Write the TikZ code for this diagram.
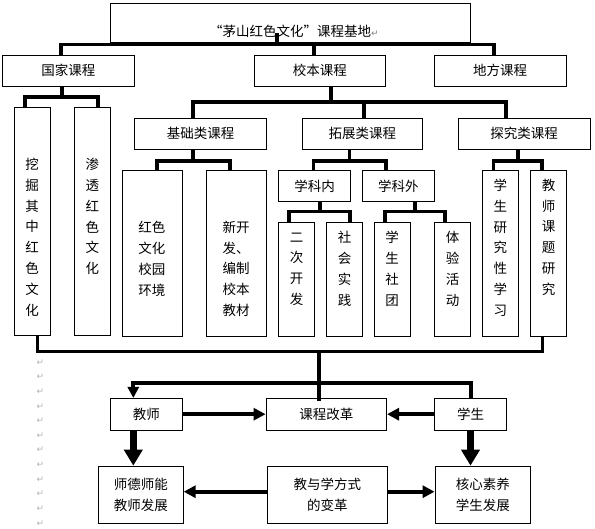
\documentclass[tikz,border=0pt]{standalone}
\usepackage{fontspec}
\newfontfamily\cjk{Noto Sans CJK SC}
\newfontfamily\symfont{DejaVu Sans}
\usetikzlibrary{arrows.meta}
\tikzset{
  kbox/.style={draw=black, line width=0.8pt, inner sep=0pt, align=center,
    font=\cjk\fontsize{13.5}{20.8}\selectfont},
  hbox/.style={kbox, minimum height=31pt},
  tallbox/.style={kbox, minimum height=165.3pt},
  vtext/.style={inner sep=0pt, align=center, font=\cjk\fontsize{13.5}{20.8}\selectfont},
  bar/.style={line width=3.6pt},
  looparr/.style={line width=4pt, -{Triangle[length=11pt,width=11pt]}},
  arr/.style={line width=4.2pt, -{Triangle[length=12pt,width=12pt]}},
  bigarr/.style={line width=6.5pt, -{Triangle[length=16pt,width=18pt]}},
  retmark/.style={text=gray!60, font=\symfont\fontsize{9}{9}\selectfont, inner sep=0pt}
}
\begin{document}
\begin{tikzpicture}[x=1pt,y=-1pt]
\useasboundingbox (0,0) rectangle (595,528);

% title and first level
\node[kbox, minimum width=360pt, minimum height=39.4pt] (title) at (290,23) {};
\node[vtext] (title-text) at (294,31.7) {“茅山红色文化”课程基地{\color{gray}\symfont\fontsize{9}{9}\selectfont ↵}};
\node[hbox, minimum width=131.6pt] (guojia) at (68.5,70.5) {国家课程};
\node[hbox, minimum width=131.7pt] (xiaoben) at (319.8,70.5) {校本课程};
\node[hbox, minimum width=131.7pt] (difang) at (500.2,70.5) {地方课程};

% national courses
\node[kbox, minimum width=36.7pt, minimum height=228.7pt] (wajue) at (32.3,221.3) {};
\node[vtext] (t-wajue) at (32,237.2) {挖\\掘\\其\\中\\红\\色\\文\\化};
\node[kbox, minimum width=36.7pt, minimum height=228.7pt] (shentou) at (92.3,221.3) {};
\node[vtext] (t-shentou) at (92.3,216.5) {渗\\透\\红\\色\\文\\化};

% school courses
\node[hbox, minimum width=132.4pt] (jichu) at (200.5,133.8) {基础类课程};
\node[hbox, minimum width=120pt] (tuozhan) at (362.3,133.8) {拓展类课程};
\node[hbox, minimum width=131.7pt] (tanjiu) at (524.2,133.8) {探究类课程};

\node[tallbox, minimum width=60pt] (hongse) at (152.3,253.3) {};
\node[vtext] (t-hongse) at (151.9,258.8) {红色\\文化\\校园\\环境};
\node[tallbox, minimum width=60pt] (xinkaifa) at (236.7,253.3) {};
\node[vtext] (t-xinkaifa) at (236,268.7) {新开\\发、\\编制\\校本\\教材};

\node[hbox, minimum width=72.4pt] (xuekenei) at (314.5,186.2) {学科内};
\node[hbox, minimum width=72pt] (xuekewai) at (398.3,186.2) {学科外};

\node[kbox, minimum width=36pt, minimum height=113.7pt] (erci) at (296.3,279.2) {};
\node[vtext] (t-erci) at (296.5,269.2) {二\\次\\开\\发};
\node[kbox, minimum width=35.6pt, minimum height=113.7pt] (shehui) at (344.5,279.2) {};
\node[vtext] (t-shehui) at (344.5,268.7) {社\\会\\实\\践};
\node[kbox, minimum width=35.7pt, minimum height=113.7pt] (shetuan) at (392.2,279.2) {};
\node[vtext] (t-shetuan) at (392.2,269) {学\\生\\社\\团};
\node[kbox, minimum width=36.4pt, minimum height=113.7pt] (tiyan) at (452.5,279.2) {};
\node[vtext] (t-tiyan) at (452.5,269) {体\\验\\活\\动};

\node[tallbox, minimum width=36pt] (yanjiu) at (500.3,253.3) {};
\node[vtext] (t-yanjiu) at (500.3,247.7) {学\\生\\研\\究\\性\\学\\习};
\node[tallbox, minimum width=36.4pt] (keti) at (548.5,253.3) {};
\node[vtext] (t-keti) at (548.5,237.2) {教\\师\\课\\题\\研\\究};

% outcome part
\node[kbox, minimum width=72.7pt, minimum height=31.7pt] (jiaoshi) at (146.3,414.2) {教师};
\node[kbox, minimum width=120.7pt, minimum height=31.7pt] (kecheng) at (326.3,414.2) {课程改革};
\node[kbox, minimum width=72.4pt, minimum height=31.7pt] (xuesheng) at (470.5,414.2) {学生};
\node[kbox, minimum width=85pt, minimum height=57.3pt] (shide) at (140.8,494.7) {师德师能\\教师发展};
\node[kbox, minimum width=120pt, minimum height=57.3pt] (jiaoxue) at (327.3,494.7) {教与学方式\\的变革};
\node[kbox, minimum width=95.7pt, minimum height=57.3pt] (hexin) at (482.8,494.7) {核心素养\\学生发展};

% where the connectors meet the boxes
\coordinate (title-out) at ([xshift=-13pt,yshift=9.7pt]title.south);
\coordinate (guojia-in) at ([xshift=-7.5pt]guojia.north);
\coordinate (xiaoben-in) at ([xshift=-5.8pt]xiaoben.north);
\coordinate (difang-in) at ([xshift=-6.2pt]difang.north);
\coordinate (guojia-out) at ([xshift=-6.8pt]guojia.south);
\coordinate (wajue-in) at ([xshift=-7.3pt]wajue.north);
\coordinate (shentou-in) at ([xshift=5.7pt]shentou.north);
\coordinate (xiaoben-out) at ([xshift=11.2pt]xiaoben.south);
\coordinate (jichu-in) at ([xshift=-7.5pt]jichu.north);
\coordinate (tuozhan-in) at ([xshift=1.7pt]tuozhan.north);
\coordinate (tanjiu-in) at ([xshift=-18.5pt]tanjiu.north);
\coordinate (jichu-out) at ([xshift=-7.5pt]jichu.south);
\coordinate (hongse-in) at ([xshift=4.4pt]hongse.north);
\coordinate (xinkaifa-in) at ([xshift=-6.7pt]xinkaifa.north);
\coordinate (tuozhan-out) at ([xshift=-13pt]tuozhan.south);
\coordinate (xuekenei-in) at ([xshift=-1.2pt]xuekenei.north);
\coordinate (xuekewai-in) at ([xshift=-12.3pt]xuekewai.north);
\coordinate (tanjiu-out) at ([xshift=-6.5pt]tanjiu.south);
\coordinate (yanjiu-in) at ([xshift=-7pt]yanjiu.north);
\coordinate (keti-in) at ([xshift=-6.8pt]keti.north);
\coordinate (xuekenei-out) at ([xshift=5.5pt]xuekenei.south);
\coordinate (erci-in) at ([xshift=-7.3pt]erci.north);
\coordinate (shehui-in) at ([xshift=5.5pt]shehui.north);
\coordinate (xuekewai-out) at ([xshift=16.7pt]xuekewai.south);
\coordinate (shetuan-in) at ([xshift=-7.2pt]shetuan.north);
\coordinate (tiyan-in) at ([xshift=-7.5pt]tiyan.north);
\coordinate (wajue-out) at ([xshift=5pt]wajue.south);
\coordinate (keti-out) at ([xshift=-6.2pt]keti.south);
\coordinate (kecheng-in) at ([xshift=-7.3pt]kecheng.north);
\coordinate (jiaoshi-in) at ([xshift=-13pt]jiaoshi.north);
\coordinate (jiaoshi-out) at ([xshift=-13pt]jiaoshi.south);
\coordinate (jiaoxue-l) at ([yshift=3pt]jiaoxue.west);
\coordinate (jiaoxue-r) at ([yshift=3pt]jiaoxue.east);

% bar levels
\coordinate (barA) at (0,44.3);
\coordinate (barB) at (0,96.7);
\coordinate (barC) at (0,101.7);
\coordinate (barD) at (0,161);
\coordinate (barE) at (0,211.5);
\coordinate (barF) at (0,351.5);
\coordinate (barG) at (0,383.3);

% tree connectors
\draw[bar] (title-out) -- (title-out |- barA);
\draw[bar] (guojia-in) |- (barA -| difang-in) -- (difang-in);
\draw[bar] (barA -| xiaoben-in) -- (xiaoben-in);

\draw[bar] (guojia-out) -- (guojia-out |- barB);
\draw[bar] (wajue-in) |- (barB -| shentou-in) -- (shentou-in);

\draw[bar] (xiaoben-out) -- (xiaoben-out |- barC);
\draw[bar] (jichu-in) |- (barC -| tanjiu-in) -- (tanjiu-in);
\draw[bar] (barC -| tuozhan-in) -- (tuozhan-in);

\draw[bar] (jichu-out) -- (jichu-out |- barD);
\draw[bar] (hongse-in) |- (barD -| xinkaifa-in) -- (xinkaifa-in);
\draw[bar] (tuozhan-out) -- (tuozhan-out |- barD);
\draw[bar] (xuekenei-in) |- (barD -| xuekewai-in) -- (xuekewai-in);
\draw[bar] (tanjiu-out) -- (tanjiu-out |- barD);
\draw[bar] (yanjiu-in) |- (barD -| keti-in) -- (keti-in);

\draw[bar] (xuekenei-out) -- (xuekenei-out |- barE);
\draw[bar] (erci-in) |- (barE -| shehui-in) -- (shehui-in);
\draw[bar] (xuekewai-out) -- (xuekewai-out |- barE);
\draw[bar] (shetuan-in) |- (barE -| tiyan-in) -- (tiyan-in);

% lower part
\draw[bar] (wajue-out) |- (barF -| keti-out) -- (keti-out);
\draw[bar] (barF -| kecheng-in) -- ([yshift=-3pt]kecheng-in);
\draw[looparr] (xuesheng.north) |- (barG -| jiaoshi-in) -- (jiaoshi-in);
\draw[arr] (jiaoshi.east) -- (kecheng.west);
\draw[arr] (xuesheng.west) -- (kecheng.east);
\draw[bigarr] (jiaoshi-out) -- (jiaoshi-out |- shide.north);
\draw[bigarr] (xuesheng.south) -- (xuesheng.south |- hexin.north);
\draw[arr] (jiaoxue-l) -- (jiaoxue-l -| shide.east);
\draw[arr] (jiaoxue-r) -- (jiaoxue-r -| hexin.west);

% paragraph marks down the left margin
\foreach \i in {0,...,11}
  \node[retmark] (ret\i) at (40.3,{362.3+14.64*\i}) {↵};
\end{tikzpicture}
\end{document}
